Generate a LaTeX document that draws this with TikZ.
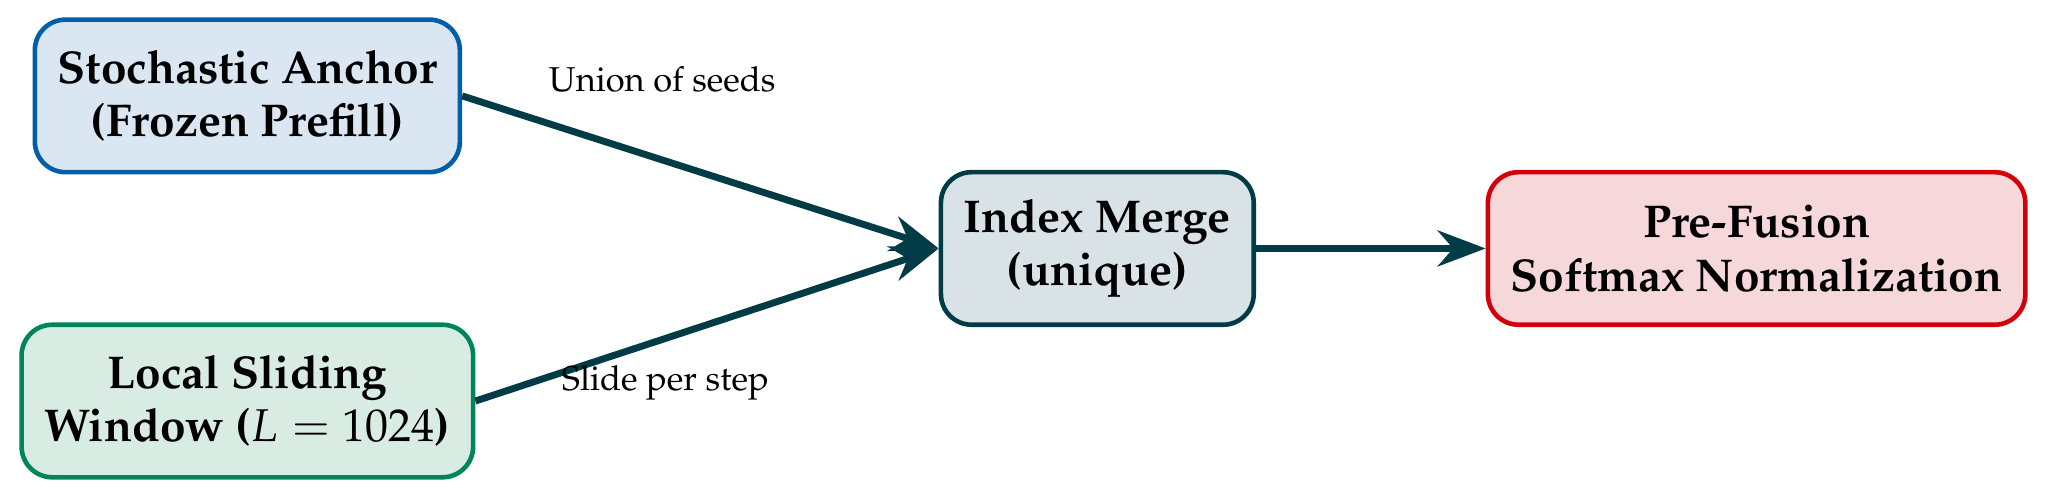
\documentclass[tikz,border=0pt]{standalone}
\usepackage[T1]{fontenc}
\usepackage{mathpazo}
\usepackage{amsmath}
\usepackage{xcolor}
\usepackage{tikz}
\usetikzlibrary{
  arrows.meta,
  positioning,
  calc}
\definecolor{flowteal}{RGB}{0,59,70}
\definecolor{anchorblue}{RGB}{0,94,170}
\definecolor{anchorfill}{RGB}{218,230,242}
\definecolor{windowgreen}{RGB}{0,133,90}
\definecolor{windowfill}{RGB}{217,236,228}
\definecolor{mergefill}{RGB}{217,226,230}
\definecolor{normred}{RGB}{210,0,10}
\definecolor{normfill}{RGB}{246,216,218}

\begin{document}
\begin{tikzpicture}[
  box/.style={draw, line width=1.2pt, rounded corners=8pt, align=center,
              minimum height=1.4cm, inner xsep=6pt, font=\large\bfseries},
  flow/.style={draw=flowteal, line width=1.8pt, -{Stealth[length=4.4mm,width=3.3mm]}},
  lbl/.style={font=\small}
]

\useasboundingbox (0,0) rectangle (18.84,4.58);

%inputs
\node[box, draw=anchorblue, fill=anchorfill] (anchor) at (2.27,3.70)
  {Stochastic Anchor\\(Frozen Prefill)};
\node[box, draw=windowgreen, fill=windowfill] (window) at (2.27,0.90)
  {Local Sliding\\Window ($L = 1024$)};

%merge and output
\node[box, draw=flowteal, fill=mergefill] (merge) at (10.07,2.30)
  {Index Merge\\(unique)};
\node[box, draw=normred, fill=normfill] (norm) at (16.12,2.30)
  {Pre-Fusion\\Softmax Normalization};

\draw[flow] (anchor.east) -- node[lbl, pos=0.42, above=4.7mm] (seeds) {Union of seeds} (merge.west);
\draw[flow] (window.east) -- node[lbl, pos=0.41, below=1mm] (slide) {Slide per step} (merge.west);
\draw[flow] (merge) -- (norm);

\end{tikzpicture}
\end{document}
